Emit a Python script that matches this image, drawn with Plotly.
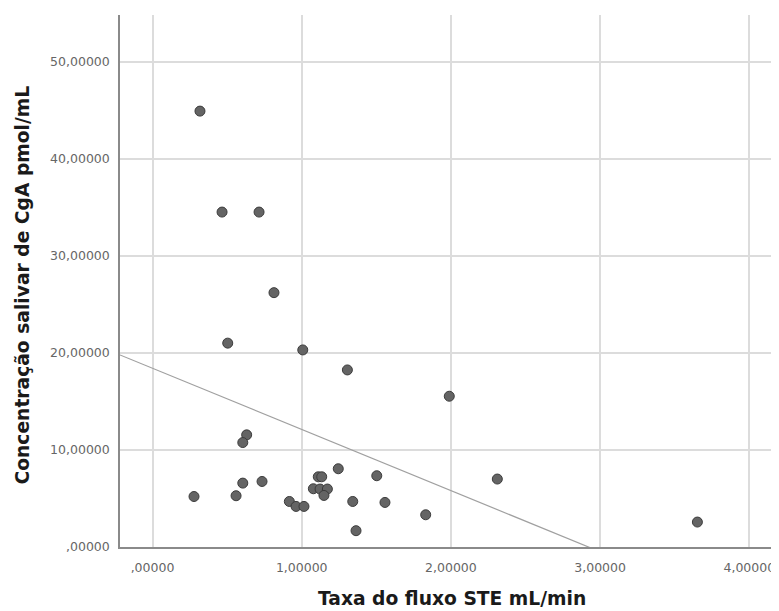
import plotly.graph_objects as go

# Data
flow_rate = [0.318, 0.466, 0.714, 0.814, 0.504, 1.007, 1.306, 1.989, 2.311, 3.652,
             0.631, 0.605, 0.278, 0.560, 0.605, 0.734,
             0.917, 0.962, 1.015, 1.078, 1.111, 1.134, 1.123, 1.172, 1.149, 1.245,
             1.342, 1.364, 1.503, 1.558, 1.831]
cga_conc = [44.9, 34.5, 34.5, 26.2, 21.0, 20.3, 18.24, 15.53, 7.0, 2.57,
            11.55, 10.76, 5.2, 5.28, 6.58, 6.75,
            4.69, 4.18, 4.18, 6.0, 7.23, 7.23, 5.97, 5.97, 5.31, 8.06,
            4.69, 1.68, 7.34, 4.59, 3.32]

# Fit line parameters
fit_intercept = 18.41
fit_slope = -6.30

x_tick_vals = [0, 1, 2, 3, 4]
x_tick_text = [",00000", "1,00000", "2,00000", "3,00000", "4,00000"]
y_tick_vals = [0, 10, 20, 30, 40, 50]
y_tick_text = [",00000", "10,00000", "20,00000", "30,00000", "40,00000", "50,00000"]

x_range = [-0.218, 4.199]
y_range = [0, 54.8]

fit_x = [x_range[0], x_range[1]]
fit_y = [fit_intercept + fit_slope * v for v in fit_x]

fig = go.Figure()
fig.add_trace(go.Scatter(
    x=fit_x, y=fit_y, mode="lines",
    line=dict(color="#a0a0a0", width=1.2),
    hoverinfo="skip", showlegend=False,
))
fig.add_trace(go.Scatter(
    x=flow_rate, y=cga_conc, mode="markers",
    marker=dict(size=10, color="#646464", line=dict(color="#3c3c3c", width=1)),
    showlegend=False, cliponaxis=False,
))

tick_font = dict(family="DejaVu Sans, sans-serif", size=12.5, color="#666666")

fig.update_xaxes(
    range=x_range, tickvals=x_tick_vals, ticktext=x_tick_text,
    showgrid=True, gridcolor="#dcdcdc", gridwidth=1.5,
    showline=True, linecolor="#8a8a8a", linewidth=1.5,
    zeroline=False, ticks="", tickfont=tick_font, ticklabelstandoff=8,
)
fig.update_yaxes(
    range=y_range, tickvals=y_tick_vals, ticktext=y_tick_text,
    showgrid=True, gridcolor="#dcdcdc", gridwidth=1.5,
    showline=True, linecolor="#8a8a8a", linewidth=1.5,
    zeroline=False, ticks="", tickfont=tick_font, ticklabelstandoff=6,
)

title_font = dict(family="DejaVu Sans, sans-serif", size=18.7, color="#1a1a1a")

fig.update_layout(
    width=771, height=603,
    margin=dict(l=112, r=0, t=7, b=64),
    paper_bgcolor="white", plot_bgcolor="white",
    annotations=[
        dict(text="<b>Taxa do fluxo STE mL/min</b>", xref="paper", yref="paper",
             x=0.5, y=0, xanchor="center", yanchor="middle",
             xshift=2.5, yshift=-51, showarrow=False, font=title_font),
        dict(text="<b>Concentração salivar de CgA pmol/mL</b>", xref="paper", yref="paper",
             x=0, y=0.5, xanchor="center", yanchor="middle", textangle=-90,
             xshift=-98, yshift=-4.5, showarrow=False, font=title_font),
    ],
)

fig.write_html("out.html")
